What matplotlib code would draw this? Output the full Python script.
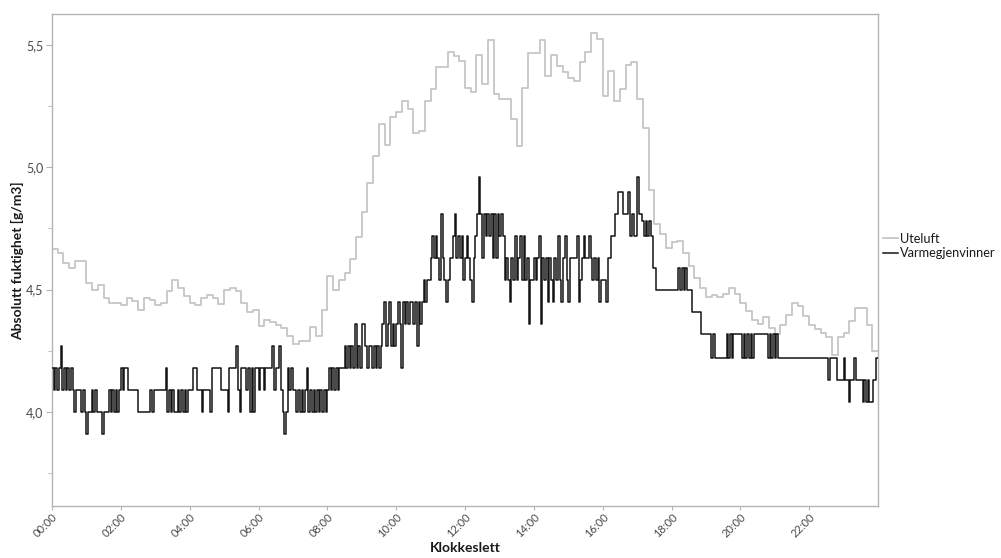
import numpy as np
import matplotlib
matplotlib.use("Agg")
import matplotlib.pyplot as plt
from matplotlib.ticker import FixedLocator, FuncFormatter

# --- data ---------------------------------------------------------------
tick_hours = [0, 2, 4, 6, 8, 10, 12, 14, 16, 18, 20, 22]
tick_labels = ["00:00", "02:00", "04:00", "06:00", "08:00", "10:00",
               "12:00", "14:00", "16:00", "18:00", "20:00", "22:00"]

# Outdoor air, absolute humidity [g/m3], one value per 10 minutes
uteluft = [
    4.668, 4.651, 4.610, 4.587, 4.617, 4.617, 4.528, 4.500, 4.517, 4.466,
    4.446, 4.446, 4.436, 4.466, 4.453, 4.418, 4.466, 4.456, 4.436, 4.446,
    4.494, 4.538, 4.507, 4.473, 4.446, 4.436, 4.466, 4.476, 4.464, 4.440,
    4.500, 4.507, 4.494, 4.446, 4.409, 4.418, 4.350, 4.377, 4.366, 4.357,
    4.343, 4.309, 4.279, 4.288, 4.288, 4.346, 4.309, 4.418, 4.556, 4.500,
    4.538, 4.569, 4.624, 4.716, 4.816, 4.937, 5.047, 5.177, 5.090, 5.205,
    5.228, 5.272, 5.237, 5.141, 5.149, 5.272, 5.320, 5.410, 5.410, 5.470,
    5.454, 5.433, 5.323, 5.310, 5.461, 5.340, 5.520, 5.300, 5.279, 5.279,
    5.196, 5.086, 5.326, 5.468, 5.468, 5.520, 5.372, 5.461, 5.413, 5.388,
    5.365, 5.351, 5.429, 5.470, 5.550, 5.523, 5.290, 5.392, 5.273, 5.320,
    5.420, 5.429, 5.279, 5.159, 4.908, 4.768, 4.728, 4.672, 4.693, 4.700,
    4.648, 4.597, 4.549, 4.505, 4.471, 4.478, 4.471, 4.483, 4.508, 4.480,
    4.446, 4.412, 4.377, 4.359, 4.387, 4.343, 4.318, 4.357, 4.398, 4.446,
    4.432, 4.391, 4.357, 4.339, 4.322, 4.308, 4.233, 4.308, 4.322, 4.370,
    4.425, 4.425, 4.357, 4.247,
]

# Sensor readings after the heat recovery unit come in discrete steps;
# each character below is one 3-minute reading, one string per hour.
level_values = {
    "0": 3.91, "1": 4.00, "2": 4.09, "3": 4.18, "4": 4.27, "5": 4.36,
    "6": 4.45, "7": 4.54, "8": 4.63, "9": 4.72, "a": 4.81, "b": 4.90,
    "c": 4.96, "p": 4.04, "q": 4.13, "r": 4.22, "s": 4.32, "t": 4.41,
    "u": 4.50, "v": 4.59, "x": 4.78,
}
varmegjenvinner_hours = [
    "32323423232321222121",  # 00
    "01121211101112121212",  # 01
    "32332222221111111212",  # 02
    "22222231212112121212",  # 03
    "22332221222213333322",  # 04
    "22133334213332313133",  # 05
    "23323333423342101323",  # 06
    "22121212312121212121",  # 07
    "23232323334343435343",  # 08
    "55434434343456456454",  # 09
    "56536565665646567677",  # 10
    "898987a8767889a89897",  # 11
    "8987689aca8a9a9a8a8a",  # 12
    "9a978768797897978577",  # 13
    "87895878687687976897",  # 14
    "68888967898898787867",  # 15
    "7768899aabbbaaab9a99",  # 16
    "caax9x9x9vvuuuuuuuuu",  # 17
    "uuuuvuvuvuuutttttsss",  # 18
    "sssrsrrrrrrrsrsrssss",  # 19
    "srsrsrsrssssssssrsrs",  # 20
    "rsrrrrrrrrrrrrrrrrrr",  # 21
    "rrrrrrrrrrrqrrrrqqqq",  # 22
    "rqqpqqrqqqqpqpqppqqr",  # 23
]

ute_step_min = 10
varme_step_min = 3

# --- style --------------------------------------------------------------
plt.rcParams['font.family'] = ['Lato', 'DejaVu Sans']
frame_grey = '#b4b4b4'
text_grey = '#4a4a4a'

fig = plt.figure(figsize=(10.01, 5.58), dpi=100)
ax = fig.add_axes([52 / 1001, 52 / 558, 826 / 1001, 492 / 558])

# Outdoor air
t_ute = np.arange(len(uteluft) + 1) * ute_step_min / 60.0
y_ute = np.append(uteluft, uteluft[-1])
ax.step(t_ute, y_ute, where='post', color='#c6c6c6', lw=1.3,
        label='Uteluft', zorder=2)

# After heat recovery
codes = ''.join(varmegjenvinner_hours)
varme = np.array([level_values[c] for c in codes])
t_var = np.arange(len(varme) + 1) * varme_step_min / 60.0
y_var = np.append(varme, varme[-1])
ax.step(t_var, y_var, where='post', color='#141414', lw=1.1,
        label='Varmegjenvinner', zorder=3)

ax.set_xlim(0, 24)
ax.set_ylim(3.615, 5.627)

ax.xaxis.set_major_locator(FixedLocator(tick_hours))
ax.set_xticklabels(tick_labels)
ax.yaxis.set_major_locator(FixedLocator([4.0, 4.5, 5.0, 5.5]))
ax.yaxis.set_minor_locator(FixedLocator([3.75, 4.25, 4.75, 5.25]))
ax.yaxis.set_major_formatter(
    FuncFormatter(lambda v, p: f"{v:.1f}".replace('.', ',')))

for side in ax.spines.values():
    side.set_color(frame_grey)
    side.set_linewidth(1.0)

ax.tick_params(axis='both', which='both', direction='out',
               color=frame_grey, labelcolor=text_grey)
ax.tick_params(axis='y', which='major', length=4, pad=2, labelsize=9)
ax.tick_params(axis='y', which='minor', length=3)
ax.tick_params(axis='x', which='major', length=3, pad=1, labelsize=8)

for lab in ax.get_xticklabels():
    lab.set_rotation(45)
    lab.set_ha('right')
    lab.set_rotation_mode('anchor')

fig.text(18 / 1001, 1 - 261 / 558, 'Absolutt fuktighet [g/m3]',
         rotation=90, ha='center', va='center', fontsize=10,
         fontweight='bold', color='#1a1a1a')
fig.text(465 / 1001, 1 - 548 / 558, 'Klokkeslett', ha='center',
         va='center', fontsize=10, fontweight='bold', color='#1a1a1a')

fig.legend(loc='center left', bbox_to_anchor=(883 / 1001, 1 - 246 / 558),
           bbox_transform=fig.transFigure, frameon=False, fontsize=9.2,
           handlelength=1.15, handletextpad=0.2, labelspacing=0.2,
           borderpad=0, borderaxespad=0, labelcolor='#1a1a1a')

fig.savefig('out.png', dpi=100, facecolor='white')
